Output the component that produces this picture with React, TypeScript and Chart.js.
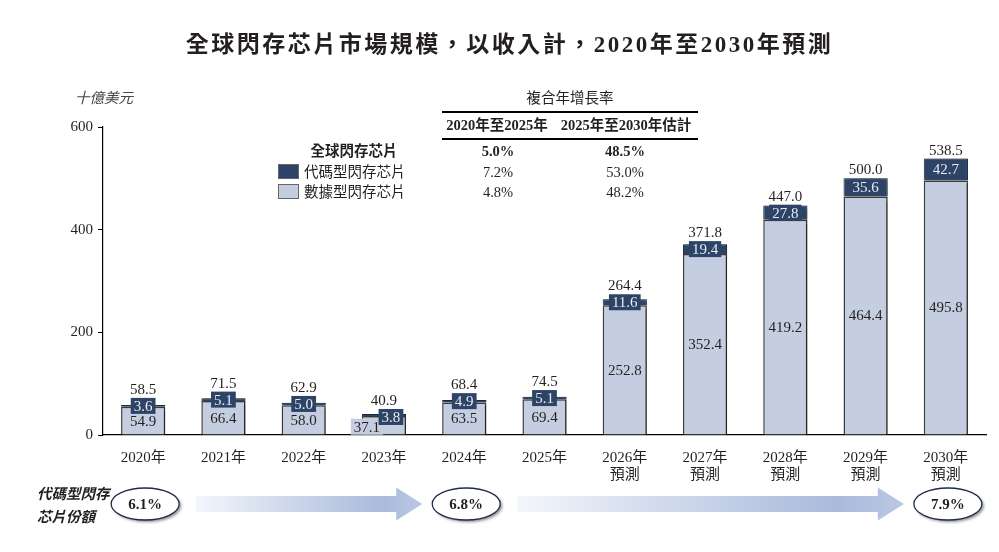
import React, { useEffect, useRef } from "react";
import { Chart, registerables } from "chart.js";

Chart.register(...registerables);

const categories: (string | string[])[] = [
  "2020年", "2021年", "2022年", "2023年", "2024年", "2025年",
  ["2026年", "預測"], ["2027年", "預測"], ["2028年", "預測"], ["2029年", "預測"], ["2030年", "預測"],
];
const dataFlash = [54.9, 66.4, 58.0, 37.1, 63.5, 69.4, 252.8, 352.4, 419.2, 464.4, 495.8];
const codeFlash = [3.6, 5.1, 5.0, 3.8, 4.9, 5.1, 11.6, 19.4, 27.8, 35.6, 42.7];
const totals = ["58.5", "71.5", "62.9", "40.9", "68.4", "74.5", "264.4", "371.8", "447.0", "500.0", "538.5"];
const yTicks = [0, 200, 400, 600];

const cagrHeader = "複合年增長率";
const cagrPeriods = ["2020年至2025年", "2025年至2030年估計"];
const cagrRows = [
  { name: "全球閃存芯片", v1: "5.0%", v2: "48.5%", bold: true, box: null as string | null },
  { name: "代碼型閃存芯片", v1: "7.2%", v2: "53.0%", bold: false, box: "dark" },
  { name: "數據型閃存芯片", v1: "4.8%", v2: "48.2%", bold: false, box: "light" },
];
const shareIndex = [0, 4, 10];
const shareValues = ["6.1%", "6.8%", "7.9%"];

const DARK = "#2d4467";
const LIGHT = "#c4cee0";
const TEXT = "#231f20";
const SERIF = "'Liberation Serif', 'Times New Roman', 'Noto Sans CJK TC', serif";

const labelPlugin = {
  id: "barLabels",
  afterDatasetsDraw(chart: any) {
    const ctx = chart.ctx;
    const m0 = chart.getDatasetMeta(0);
    const m1 = chart.getDatasetMeta(1);
    ctx.save();
    ctx.font = `15px ${SERIF}`;
    ctx.textAlign = "center";
    ctx.textBaseline = "middle";
    for (let i = 0; i < dataFlash.length; i++) {
      const b0 = m0.data[i];
      const b1 = m1.data[i];
      const special = i === 3;
      // light label
      const ly = (b0.y + b0.base) / 2 + (special ? 1.5 : 0);
      const lx = b0.x + (special ? -17 : 0);
      const lt = dataFlash[i].toFixed(1);
      if (special) {
        const w = ctx.measureText(lt).width + 6;
        ctx.fillStyle = LIGHT;
        ctx.fillRect(lx - w / 2, ly - 8, w, 16);
      }
      ctx.fillStyle = TEXT;
      ctx.fillText(lt, lx, ly + 1);
      // dark label with box
      const dy = (b1.y + b1.base) / 2 + (special ? 2 : 0);
      const dx = b1.x + (special ? 7 : 0);
      const dt = codeFlash[i].toFixed(1);
      const dw = ctx.measureText(dt).width + 6;
      ctx.fillStyle = DARK;
      ctx.fillRect(dx - dw / 2, dy - 8, dw, 16);
      ctx.fillStyle = "#e6ebf3";
      ctx.fillText(dt, dx, dy + 1);
      // total
      const top = Math.min(b1.y, dy - 8);
      ctx.fillStyle = TEXT;
      ctx.fillText(totals[i], b1.x, top - 8);
    }
    ctx.restore();
  },
  afterDraw(chart: any) {
    const ctx = chart.ctx;
    const xs = chart.scales.x;
    const cy = 504;
    ctx.save();
    // arrows
    for (let k = 0; k < shareIndex.length - 1; k++) {
      const x0 = xs.getPixelForValue(shareIndex[k]) + 53;
      const x1 = xs.getPixelForValue(shareIndex[k + 1]) - 42;
      const headW = 26;
      const g = ctx.createLinearGradient(x0, 0, x1, 0);
      g.addColorStop(0, "#f3f6fb");
      g.addColorStop(0.82, "#a9badb");
      g.addColorStop(1, "#bac8e4");
      ctx.fillStyle = g;
      ctx.beginPath();
      ctx.moveTo(x0, cy - 8);
      ctx.lineTo(x1 - headW, cy - 8);
      ctx.lineTo(x1 - headW, cy - 16.5);
      ctx.lineTo(x1, cy);
      ctx.lineTo(x1 - headW, cy + 16.5);
      ctx.lineTo(x1 - headW, cy + 8);
      ctx.lineTo(x0, cy + 8);
      ctx.closePath();
      ctx.fill();
    }
    // ellipses
    for (let k = 0; k < shareIndex.length; k++) {
      const x = xs.getPixelForValue(shareIndex[k]) + 2;
      ctx.save();
      ctx.shadowColor = "rgba(0,0,0,0.45)";
      ctx.shadowOffsetX = 2;
      ctx.shadowOffsetY = 2;
      ctx.shadowBlur = 3;
      ctx.beginPath();
      ctx.ellipse(x, cy, 34, 16, 0, 0, Math.PI * 2);
      ctx.fillStyle = "#ffffff";
      ctx.fill();
      ctx.restore();
      ctx.beginPath();
      ctx.ellipse(x, cy, 34, 16, 0, 0, Math.PI * 2);
      ctx.strokeStyle = "#1f2d48";
      ctx.lineWidth = 1.3;
      ctx.stroke();
      ctx.fillStyle = TEXT;
      ctx.font = `bold 15px ${SERIF}`;
      ctx.textAlign = "center";
      ctx.textBaseline = "middle";
      ctx.fillText(shareValues[k], x, cy + 1);
    }
    ctx.restore();
  },
};

const shadowPlugin = {
  id: "barShadow",
  beforeDatasetsDraw(chart: any) {
    const ctx = chart.ctx;
    ctx.save();
    ctx.shadowColor = "rgba(0,0,0,0.35)";
    ctx.shadowOffsetX = 2;
    ctx.shadowOffsetY = 0;
    ctx.shadowBlur = 1;
  },
  afterDatasetsDraw(chart: any) {
    chart.ctx.restore();
  },
};

export default function App() {
  const ref = useRef<HTMLCanvasElement>(null);
  useEffect(() => {
    document.body.style.margin = "0";
    if (!ref.current) return;
    const chart = new Chart(ref.current, {
      type: "bar",
      data: {
        labels: categories,
        datasets: [
          {
            label: "數據型閃存芯片",
            data: dataFlash,
            backgroundColor: LIGHT,
            borderColor: "#3b3b3b",
            borderWidth: 1.5,
          },
          {
            label: "代碼型閃存芯片",
            data: codeFlash,
            backgroundColor: DARK,
            borderColor: "#1e2a3d",
            borderWidth: 1,
          },
        ],
      },
      options: {
        responsive: false,
        animation: false,
        layout: { padding: { top: 127, right: 13, left: 0, bottom: 0 } },
        datasets: { bar: { categoryPercentage: 1, barPercentage: 0.55 } },
        plugins: { legend: { display: false }, tooltip: { enabled: false } },
        scales: {
          x: {
            stacked: true,
            grid: { display: false },
            border: { display: true, color: "#000", width: 1.2 },
            ticks: { color: TEXT, font: { family: SERIF, size: 15, lineHeight: 1.15 }, padding: 6, maxRotation: 0, autoSkip: false },
            afterFit: (s: any) => { s.height = 117; },
          },
          y: {
            stacked: true,
            min: 0,
            max: 600,
            afterBuildTicks: (s: any) => { s.ticks = yTicks.map((v) => ({ value: v })); },
            grid: { display: true, drawOnChartArea: false, drawTicks: true, tickLength: 5, color: "#000", lineWidth: 1 },
            border: { display: true, color: "#000", width: 1.2 },
            ticks: { color: TEXT, font: { family: SERIF, size: 15 }, padding: 5 },
            afterFit: (s: any) => { s.width = 103; },
          },
        },
      },
      plugins: [shadowPlugin, labelPlugin],
    } as any);
    return () => chart.destroy();
  }, []);

  const cell = (x: number, y: number, text: string, bold: boolean, center = true, extra: any = {}) => (
    <div
      style={{
        position: "absolute",
        left: x,
        top: y,
        transform: center ? "translate(-50%, -50%)" : "translate(0, -50%)",
        whiteSpace: "nowrap",
        fontFamily: SERIF,
        fontSize: 14.5,
        fontWeight: bold ? "bold" : "normal",
        color: TEXT,
        lineHeight: 1,
        ...extra,
      }}
    >
      {text}
    </div>
  );

  return (
    <div style={{ position: "relative", width: 999, height: 552, background: "#fff", overflow: "hidden" }}>
      <canvas ref={ref} width={999} height={552} style={{ position: "absolute", left: 0, top: 0 }} />
      <div
        style={{
          position: "absolute",
          left: 10,
          top: 42,
          width: 999,
          transform: "translateY(-50%)",
          textAlign: "center",
          fontFamily: SERIF,
          fontWeight: "bold",
          fontSize: 23,
          letterSpacing: 2.5,
          color: TEXT,
          whiteSpace: "nowrap",
        }}
      >
        全球閃存芯片市場規模，以收入計，2020年至2030年預測
      </div>
      {cell(75, 98, "十億美元", false, false, { fontStyle: "italic", color: "#444" })}
      {cell(570, 98, cagrHeader, false)}
      <div style={{ position: "absolute", left: 442, top: 111, width: 256, height: 2, background: "#000" }} />
      {cell(497, 125, cagrPeriods[0], true)}
      {cell(626, 125, cagrPeriods[1], true)}
      <div style={{ position: "absolute", left: 442, top: 138, width: 256, height: 2, background: "#000" }} />
      {cagrRows.map((r, i) => {
        const y = 151 + i * 20.5;
        return (
          <React.Fragment key={i}>
            {r.box && (
              <div
                style={{
                  position: "absolute",
                  left: 278,
                  top: y - 8,
                  width: 21,
                  height: 15,
                  background: r.box === "dark" ? DARK : LIGHT,
                  border: "1px solid #666",
                  boxSizing: "border-box",
                }}
              />
            )}
            {r.bold ? cell(354, y, r.name, true) : cell(304, y, r.name, false, false)}
            {cell(498, y, r.v1, r.bold)}
            {cell(625, y, r.v2, r.bold)}
          </React.Fragment>
        );
      })}
      {cell(37, 494, "代碼型閃存", true, false, { fontStyle: "italic" })}
      {cell(37, 517, "芯片份額", true, false, { fontStyle: "italic" })}
    </div>
  );
}
